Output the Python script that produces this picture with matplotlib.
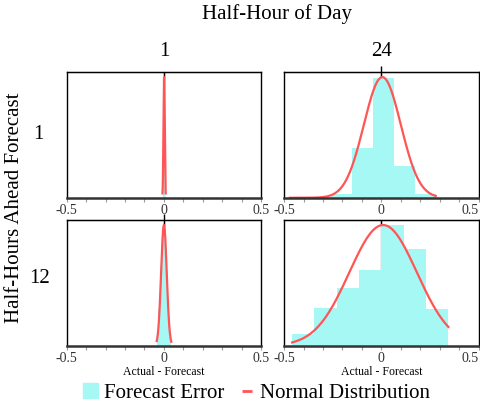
import numpy as np
import matplotlib
matplotlib.use('Agg')
import matplotlib.pyplot as plt
from matplotlib.patches import Patch
from matplotlib.lines import Line2D

plt.rcParams['font.family'] = ['Liberation Serif', 'DejaVu Serif']

col_labels = ['1', '24']
row_labels = ['1', '12']

# histogram bin edges and bar heights (relative to the normal curve peak)
edges_1_1 = [-0.006, -0.003, 0.0, 0.003, 0.006]
heights_1_1 = [0.15, 0.8, 0.85, 0.15]
edges_1_24 = [-0.258, -0.15, -0.042, 0.066, 0.174, 0.282]
heights_1_24 = [0.028, 0.41, 0.99, 0.26, 0.028]
edges_12_1 = [-0.038, -0.028, -0.019, -0.009, 0.0, 0.009, 0.019, 0.028, 0.038]
heights_12_1 = [0.08, 0.3, 0.65, 0.97, 0.97, 0.62, 0.28, 0.07]
edges_12_24 = [-0.46, -0.345, -0.23, -0.115, 0.0, 0.115, 0.23, 0.345]
heights_12_24 = [0.10, 0.31, 0.48, 0.63, 1.0, 0.80, 0.30]

# fitted normal: mean, sd, x range drawn
norm_1_1 = (0.001, 0.0033, -0.0075, 0.0095)
norm_1_24 = (0.005, 0.095, -0.47, 0.28)
norm_12_1 = (0.0, 0.0145, -0.037, 0.038)
norm_12_24 = (0.009, 0.174, -0.459, 0.345)

panels = [[(edges_1_1, heights_1_1, norm_1_1), (edges_1_24, heights_1_24, norm_1_24)],
          [(edges_12_1, heights_12_1, norm_12_1), (edges_12_24, heights_12_24, norm_12_24)]]
top_tick_dir = [['in', 'inout'], ['inout', 'in']]

bar_color = '#a6f8f5'
line_color = '#ff5555'

fig = plt.figure(figsize=(4.8, 4.12), dpi=100)
lefts = [0.139, 0.592]
width = 0.405
bottoms = [0.520, 0.161]
height = 0.306

for r in range(2):
    for c in range(2):
        edges, heights, norm = panels[r][c]
        ax = fig.add_axes([lefts[c], bottoms[r], width, height])
        ax.axvline(0, color='#aaaaaa', lw=1, zorder=0)
        ax.bar(edges[:-1], heights, width=np.diff(edges), align='edge',
               color=bar_color, lw=0, zorder=1)
        mu, sd, x0, x1 = norm
        xs = np.linspace(x0, x1, 400)
        ax.plot(xs, np.exp(-0.5 * ((xs - mu) / sd) ** 2), color=line_color,
                lw=1.6, zorder=2)
        ax.set_xlim(-0.5, 0.5)
        ax.set_ylim(0, 1.045)
        ax.set_yticks([])
        ax.set_xticks(np.arange(-0.5, 0.51, 0.1))
        labs = ax.set_xticklabels(['-0.5', '', '', '', '', '0', '', '', '', '', '0.5'])
        if c == 1:
            labs[-1].set_ha('right')
        ax.tick_params(axis='x', direction='out', length=3, width=0.8,
                       color='#999999', labelsize=10, labelcolor='#333333', pad=1.5)
        for s in ['left', 'right', 'top']:
            ax.spines[s].set_color('black')
            ax.spines[s].set_linewidth(1)
        ax.spines['bottom'].set_color('#333333')
        ax.spines['bottom'].set_linewidth(1.8)
        # single black tick on the top frame at zero
        top = ax.secondary_xaxis('top')
        top.set_xticks([0])
        top.set_xticklabels([''])
        d = top_tick_dir[r][c]
        top.tick_params(direction=d, length=9 if d == 'inout' else 4.5,
                        width=1, color='black')
        if r == 1:
            ax.set_xlabel('Actual - Forecast', fontsize=8.5, labelpad=1)

fig.text(0.577, 0.965, 'Half-Hour of Day', ha='center', va='center', fontsize=15)
fig.text(0.343, 0.876, col_labels[0], ha='center', va='center', fontsize=15)
fig.text(0.794, 0.876, col_labels[1], ha='center', va='center', fontsize=15)
fig.text(0.079, 0.673, row_labels[0], ha='center', va='center', fontsize=15)
fig.text(0.083, 0.325, row_labels[1], ha='center', va='center', fontsize=15)
fig.text(0.031, 0.495, 'Half-Hours Ahead Forecast', ha='center', va='center',
         rotation=90, fontsize=15)

handles = [Patch(color=bar_color),
           Line2D([], [], color=line_color, marker='_', markersize=7,
                  markeredgewidth=2, ls='none')]
fig.legend(handles, ['Forecast Error', 'Normal Distribution'], loc='center',
           bbox_to_anchor=(0.535, 0.046), ncol=2, frameon=False, fontsize=15,
           handlelength=0.7, handleheight=0.75, handletextpad=0.3,
           columnspacing=0.7)

fig.savefig('out.png', dpi=100)
